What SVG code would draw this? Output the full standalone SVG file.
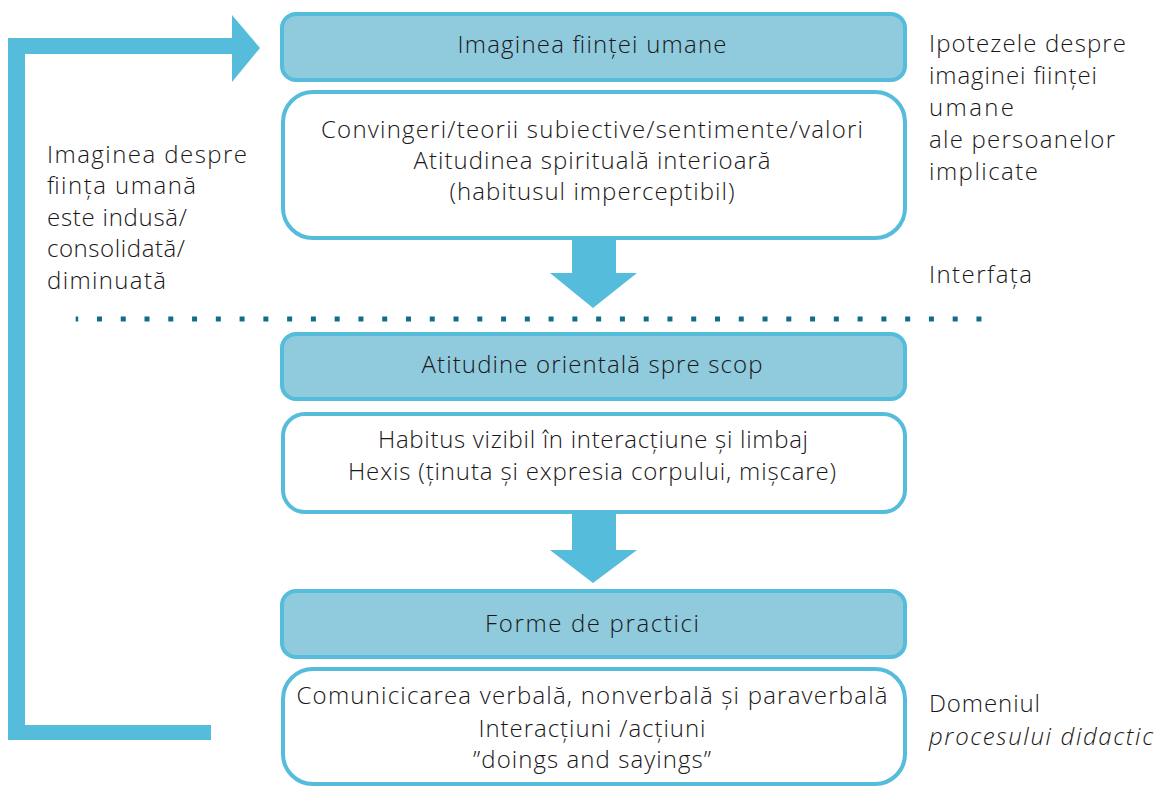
<svg xmlns="http://www.w3.org/2000/svg" width="1156" height="786" viewBox="0 0 1156 786">
<style>
.hdr{fill:#8fcadd;stroke:#55bcdb;stroke-width:4}
.box{fill:#ffffff;stroke:#55bcdb;stroke-width:4}
.arr{fill:#55bcdb}
text{font-family:"Open Sans",Lato,"Liberation Sans",sans-serif;font-weight:300;font-size:24px;fill:#1a1718}
.c{text-anchor:middle}
.i{font-style:italic}
</style>
<rect width="1156" height="786" fill="#ffffff"/>
<g id="connectors">
<path class="arr" d="M8,38 H232 V15 L260,48 L232,82 V54 H25 V725 H211 V740 H8 Z"/>
<path class="arr" d="M572,240 H616 V273 H637 L593,308 L550,273 H572 Z"/>
<path class="arr" d="M572,514 H616 V550 H637 L593,583 L550,550 H572 Z"/>
<line x1="75.7" y1="319" x2="982" y2="319" stroke="#106d8c" stroke-width="5" stroke-dasharray="5 18.77" stroke-dashoffset="2.5"/>
</g>
<g id="n1">
<rect class="hdr" x="282" y="14" width="623" height="66" rx="14"/>
<text class="c" x="592" y="53" textLength="269">Imaginea ființei umane</text>
</g>
<g id="n2">
<rect class="box" x="283" y="92" width="622" height="146" rx="30"/>
<text class="c" x="592" y="138" textLength="542">Convingeri/teorii subiective/sentimente/valori</text>
<text class="c" x="592" y="169" textLength="357">Atitudinea spirituală interioară</text>
<text class="c" x="592" y="200" textLength="285">(habitusul imperceptibil)</text>
</g>
<g id="n3">
<rect class="hdr" x="282" y="334" width="623" height="65" rx="14"/>
<text class="c" x="592" y="373" textLength="341">Atitudine orientală spre scop</text>
</g>
<g id="n4">
<rect class="box" x="283" y="414" width="622" height="98" rx="22"/>
<text class="c" x="593" y="448" textLength="430">Habitus vizibil în interacțiune și limbaj</text>
<text class="c" x="592" y="480" textLength="488">Hexis (ținuta și expresia corpului, mișcare)</text>
</g>
<g id="n5">
<rect class="hdr" x="282" y="591" width="623" height="66" rx="14"/>
<text class="c" x="592" y="632" textLength="214">Forme de practici</text>
</g>
<g id="n6">
<rect class="box" x="283" y="669" width="622" height="115" rx="30"/>
<text class="c" x="592" y="704" textLength="591">Comunicicarea verbală, nonverbală și paraverbală</text>
<text class="c" x="592" y="737" textLength="227">Interacțiuni /acțiuni</text>
<text class="c" x="592" y="768" textLength="238">”doings and sayings”</text>
</g>
<g id="left-label">
<text x="47" y="163" textLength="200">Imaginea despre</text>
<text x="47" y="194" textLength="149">ființa umană</text>
<text x="47" y="226" textLength="140">este indusă/</text>
<text x="47" y="257" textLength="138">consolidată/</text>
<text x="47" y="289" textLength="119">diminuată</text>
</g>
<g id="right-label">
<text x="929" y="52" textLength="197">Ipotezele despre</text>
<text x="929" y="84" textLength="168">imaginei ființei</text>
<text x="929" y="116" textLength="85">umane</text>
<text x="929" y="148" textLength="186">ale persoanelor</text>
<text x="929" y="180" textLength="109">implicate</text>
</g>
<g id="interface-label">
<text x="929" y="283" textLength="103">Interfața</text>
</g>
<g id="domain-label">
<text x="929" y="712" textLength="111">Domeniul</text>
<text class="i" x="929" y="745" textLength="224">procesului didactic</text>
</g>
</svg>
